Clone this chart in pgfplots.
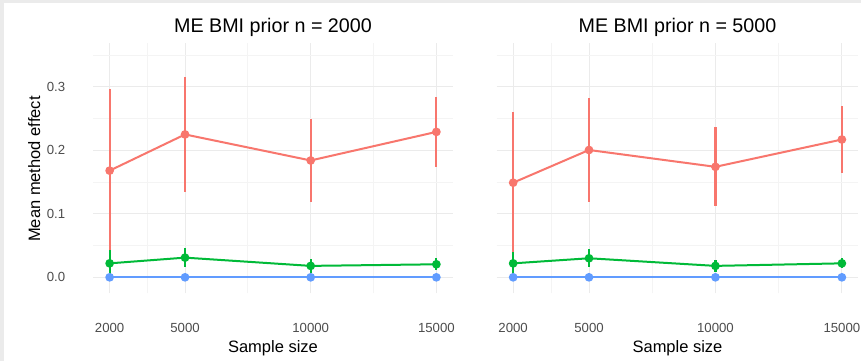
\documentclass[border=0pt]{standalone}
\usepackage{pgfplots}
\usepackage{pgfplotstable}
\pgfplotsset{compat=1.18}
\usepackage{fontspec}
\setmainfont{Liberation Sans}
\definecolor{gred}{HTML}{F8766D}
\definecolor{ggreen}{HTML}{00BA38}
\definecolor{gblue}{HTML}{619CFF}
\definecolor{gmaj}{HTML}{EBEBEB}
\definecolor{gmin}{HTML}{F4F4F4}
\definecolor{tickc}{HTML}{4D4D4D}
\definecolor{frame}{HTML}{EBEBEB}

\pgfplotstableread{
x y e
2000 0.168 0.128
5000 0.225 0.090
10000 0.184 0.066
15000 0.229 0.055
}\Lred
\pgfplotstableread{
x y e
2000 0.022 0.021
5000 0.031 0.015
10000 0.018 0.011
15000 0.0205 0.0095
}\Lgreen
\pgfplotstableread{
x y e
2000 0 0
5000 0 0
10000 0 0
15000 0 0
}\Lblue
\pgfplotstableread{
x y e
2000 0.149 0.112
5000 0.2005 0.082
10000 0.174 0.062
15000 0.217 0.053
}\Rred
\pgfplotstableread{
x y e
2000 0.022 0.018
5000 0.030 0.014
10000 0.018 0.010
15000 0.022 0.008
}\Rgreen

\pgfplotsset{
  panel/.style={
    anchor=south west, scale only axis, height=250pt,
    ymin=-0.0247, ymax=0.369, xmin=1350, xmax=15650,
    axis line style={draw=none}, major tick length=0pt, minor tick length=0pt,
    xtick={2000,5000,10000,15000}, xticklabels={2000,5000,10000,15000},
    minor xtick={3500,7500,12500},
    ytick={0,0.1,0.2,0.3}, minor ytick={0.05,0.15,0.25,0.35},
    grid=both,
    major grid style={color=gmaj, line width=1pt},
    minor grid style={color=gmin, line width=0.8pt},
    tick label style={font=\fontsize{13.2}{13.2}\selectfont, color=tickc, inner sep=0pt},
    xticklabel style={anchor=center, yshift=-35pt},
    yticklabel style={anchor=east, xshift=-28pt},
    clip=false,
  },
  ser/.style={color=#1, line width=2pt, mark=*, mark size=3.3pt,
    mark options={solid, fill=#1, draw=none},
    error bars/.cd, y dir=both, y explicit, error mark=none,
    error bar style={line width=2.2pt, color=#1, line cap=butt}},
}

\begin{document}
\begin{tikzpicture}
\path[use as bounding box] (0,0) rectangle (861pt,361pt);
\fill[frame] (0,0) rectangle (861pt,361pt);
\fill[white] (4pt,0) rectangle (861pt,357.7pt);

\begin{axis}[panel, at={(93.3pt,68pt)}, width=359.4pt,
  yticklabels={0.0,0.1,0.2,0.3}]
\addplot[ser=gred] table[x=x,y=y,y error=e] {\Lred};
\addplot[ser=ggreen] table[x=x,y=y,y error=e] {\Lgreen};
\addplot[ser=gblue] table[x=x,y=y,y error=e] {\Lblue};
\end{axis}

\begin{axis}[panel, at={(496.7pt,68pt)}, width=361.6pt,
  yticklabels={}]
\addplot[ser=gred] table[x=x,y=y,y error=e] {\Rred};
\addplot[ser=ggreen] table[x=x,y=y,y error=e] {\Rgreen};
\addplot[ser=gblue] table[x=x,y=y,y error=e] {\Lblue};
\end{axis}

\node[anchor=base, font=\fontsize{19.7}{19.7}\selectfont, inner sep=0pt] at (273pt,328.7pt) {ME BMI prior n = 2000};
\node[anchor=base, font=\fontsize{19.7}{19.7}\selectfont, inner sep=0pt] at (677.5pt,328.7pt) {ME BMI prior n = 5000};
\node[anchor=base, font=\fontsize{16.5}{16.5}\selectfont, inner sep=0pt] at (273pt,8.3pt) {Sample size};
\node[anchor=base, font=\fontsize{16.5}{16.5}\selectfont, inner sep=0pt] at (677.5pt,8.3pt) {Sample size};
\node[anchor=base, rotate=90, font=\fontsize{16.5}{16.5}\selectfont, inner sep=0pt] at (40pt,192pt) {Mean method effect};
\end{tikzpicture}
\end{document}
